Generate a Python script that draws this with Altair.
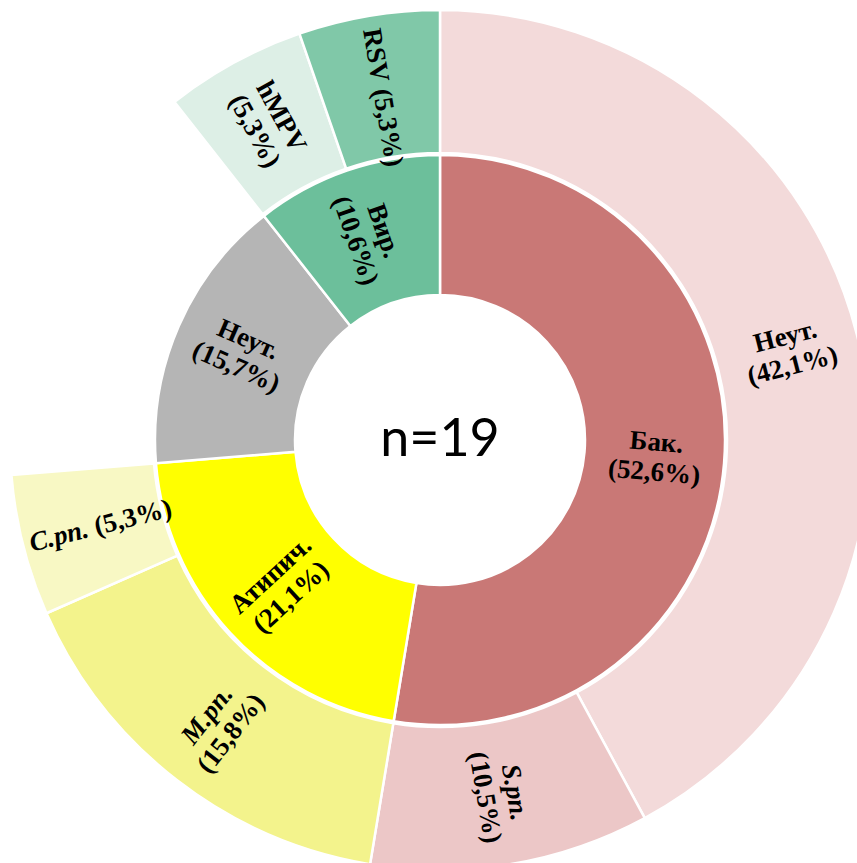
import math

import altair as alt
import pandas as pd

# Inner ring: aetiology groups, % of patients (n = 19)
n_total = 19
inner_keys = ["bak", "atyp", "neut_in", "vir"]
inner_names = ["Бак.", "Атипич.", "Неут.", "Вир."]
inner_values = [52.6, 21.1, 15.7, 10.6]
inner_lines = [2, 2, 2, 2]
inner_italic = [False, False, False, False]

# Outer ring: pathogens inside each group ("gap" = group without breakdown)
outer_keys = ["neut_out", "spn", "mpn", "cpn", "gap", "hmpv", "rsv"]
outer_names = ["Неут.", "S.pn.", "M.pn.", "C.pn.", "", "hMPV", "RSV"]
outer_values = [42.1, 10.5, 15.8, 5.3, 15.7, 5.3, 5.3]
outer_lines = [2, 2, 2, 1, 0, 2, 1]
outer_italic = [False, True, True, True, False, False, False]

# Fill colours per segment
palette_keys = inner_keys + outer_keys
palette_colors = ["#C97876", "#FFFF00", "#B5B5B5", "#6CBF9B",
                  "#F3DADA", "#ECC7C7", "#F3F38C", "#F8F8C4", "#FFFFFF", "#DDEFE6", "#80C8A8"]


def pct_text(v):
    return "(" + f"{v:.1f}".replace(".", ",") + "%)"


def ring_table(keys, names, values, lines, italic):
    rows = []
    acc = 0.0
    for k, nm, v, ln, it in zip(keys, names, values, lines, italic):
        start, end = acc, acc + v
        mid = (start + end) / 2
        # radial text orientation, flipped so it never reads upside down
        rot = mid / 100 * 360 - 90
        if rot > 90:
            rot -= 180
        if rot < -90:
            rot += 180
        rows.append({"key": k, "name": nm, "pct": pct_text(v), "lines": ln,
                     "italic": it, "start": start, "end": end,
                     "mid": mid, "rot": rot % 360})
        acc = end
    return pd.DataFrame(rows)


inner_df = ring_table(inner_keys, inner_names, inner_values, inner_lines, inner_italic)
outer_df = ring_table(outer_keys, outer_names, outer_values, outer_lines, outer_italic)

theta_scale = alt.Scale(domain=[0, 100], range=[0, 2 * math.pi])
fill_scale = alt.Scale(domain=palette_keys, range=palette_colors)
cx, cy = 440, 440
font_size = 27
half_line = 15


def arcs(df, r_in, r_out):
    return alt.Chart(df).transform_filter("datum.key != 'gap'").mark_arc(
        innerRadius=r_in, outerRadius=r_out, stroke="white", strokeWidth=2.5
    ).encode(
        theta=alt.Theta("start:Q", scale=theta_scale, stack=None),
        theta2="end:Q",
        fill=alt.Fill("key:N", scale=fill_scale, legend=None),
        x=alt.value(cx),
        y=alt.value(cy),
    )


def text_layer(df, r, cond, field, dx=0, dy=0, align="center", italic=False):
    return alt.Chart(df).transform_filter(cond).mark_text(
        radius=r, dx=dx, dy=dy, align=align, baseline="middle",
        font="Liberation Serif", fontWeight="bold", fontSize=font_size,
        fontStyle="italic" if italic else "normal", color="black",
    ).encode(
        theta=alt.Theta("mid:Q", scale=theta_scale, stack=None),
        angle=alt.Angle("rot:Q", scale=None),
        text=f"{field}:N",
        x=alt.value(cx),
        y=alt.value(cy),
    )


def ring_labels(df, r):
    return [
        # two-line labels: name above, percentage below
        text_layer(df, r, "datum.lines == 2 && !datum.italic", "name", dy=-half_line),
        text_layer(df, r, "datum.lines == 2 && datum.italic", "name", dy=-half_line, italic=True),
        text_layer(df, r, "datum.lines == 2", "pct", dy=half_line),
        # one-line labels: name and percentage side by side
        text_layer(df, r, "datum.lines == 1 && !datum.italic", "name", dx=-3, align="right"),
        text_layer(df, r, "datum.lines == 1 && datum.italic", "name", dx=-3, align="right", italic=True),
        text_layer(df, r, "datum.lines == 1", "pct", dx=4, align="left"),
    ]


center = alt.Chart(pd.DataFrame({"t": [f"n={n_total}"]})).mark_text(
    font="Lato", fontSize=52, color="black", align="center", baseline="middle"
).encode(text="t:N", x=alt.value(cx), y=alt.value(cy))

chart = alt.layer(
    arcs(outer_df, 287, 430),
    arcs(inner_df, 145, 285),
    *ring_labels(outer_df, 360),
    *ring_labels(inner_df, 216),
    center,
).properties(
    width=857,
    height=863,
    padding=0,
    autosize=alt.AutoSizeParams(type="none"),
).configure_view(stroke=None)

chart.save("out.html", embed_options={"renderer": "svg", "actions": False})
